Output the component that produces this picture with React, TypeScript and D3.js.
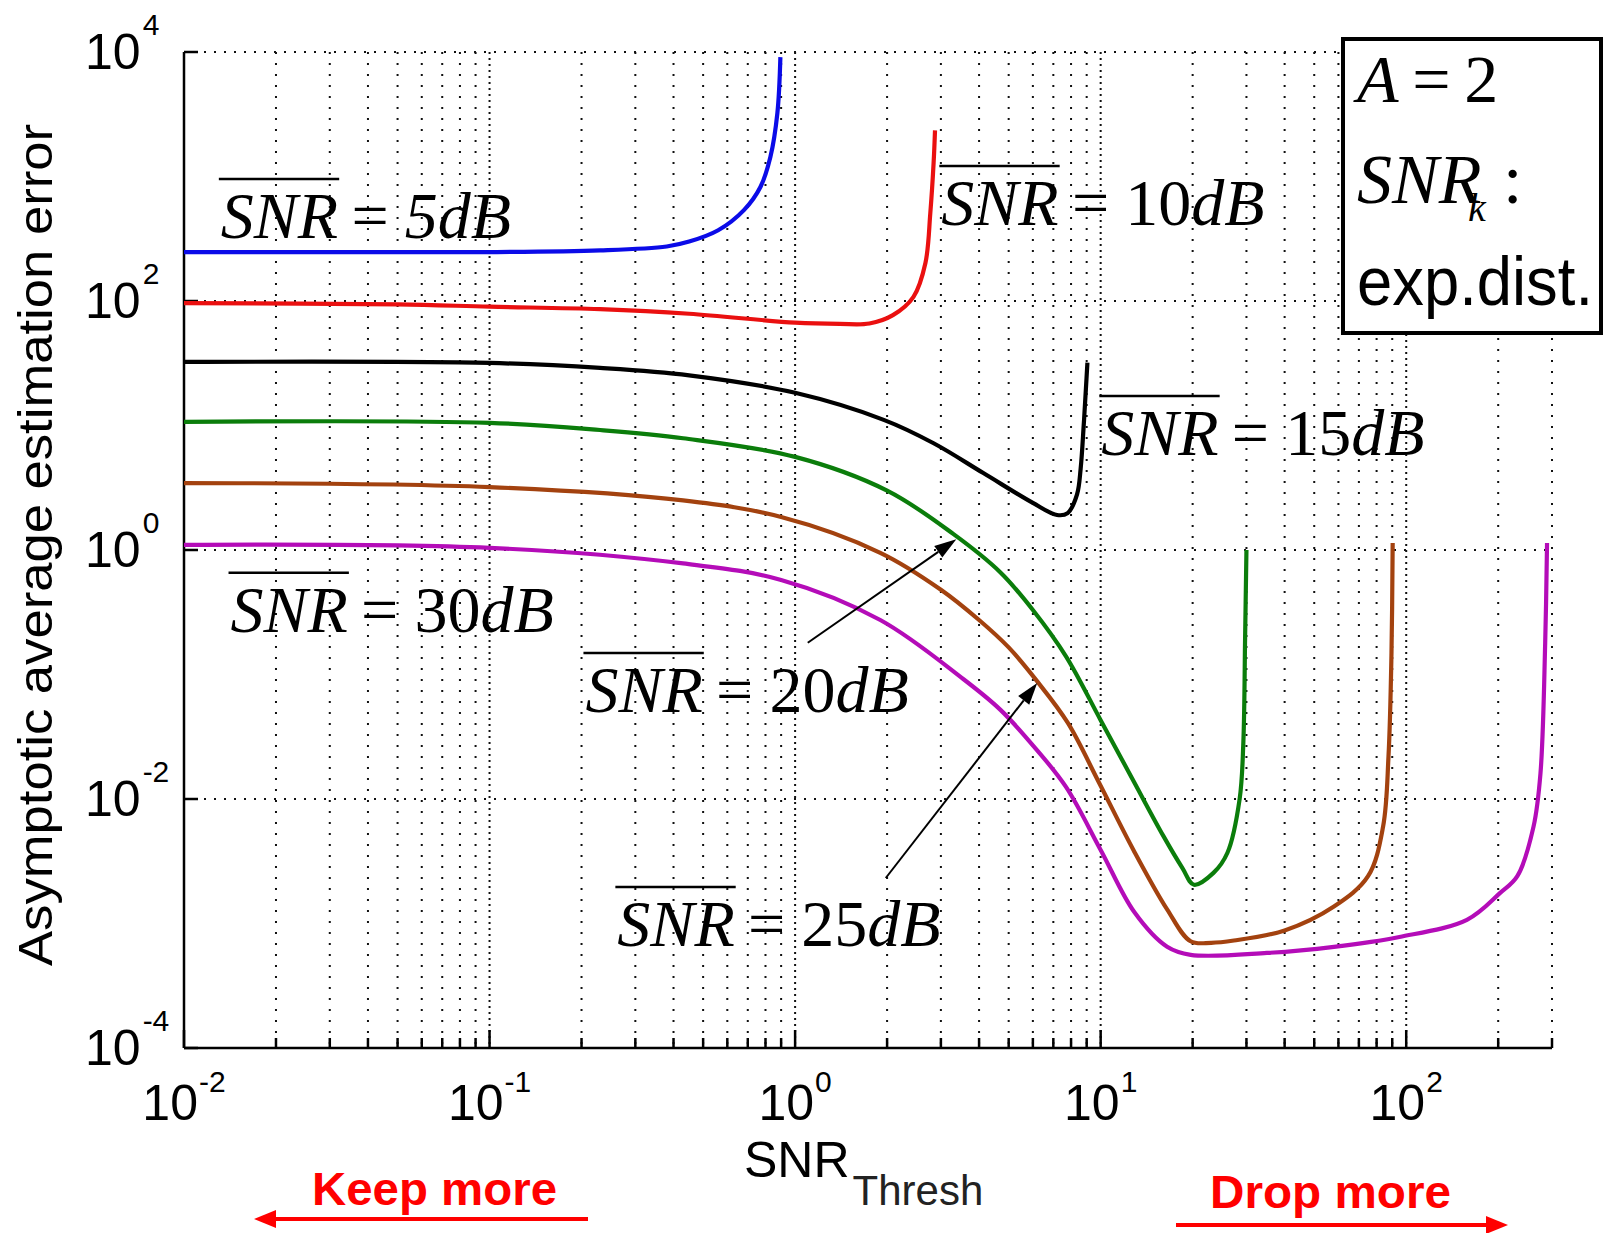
import React, { useEffect, useRef } from 'react';
import * as d3 from 'd3';

// SNR_Thresh (x) and asymptotic error (y), one pair per mean SNR curve
const snr5X = [0.01, 0.05, 0.1, 0.23, 0.38, 0.45, 0.56, 0.68, 0.77, 0.83, 0.875, 0.895];
const snr5Y = [247, 247, 247, 255, 274, 300, 370, 537, 824, 1435, 3240, 9100];

const snr10X = [0.01, 0.05, 0.1, 0.23, 0.45, 1.0, 1.4, 1.75, 2.09, 2.44, 2.67, 2.77, 2.84, 2.87];
const snr10Y = [96, 94, 90, 86, 79, 67, 65.5, 66, 77, 108, 202, 508, 1290, 2350];

const snr15X = [0.01, 0.1, 0.23, 0.45, 1.0, 1.95, 2.84, 4.13, 6.0, 7.2, 7.8, 8.37, 8.6, 8.8, 8.95, 9.05];
const snr15Y = [32.4, 31.8, 29, 25.3, 18.3, 11.1, 7.2, 4.15, 2.39, 1.91, 1.98, 2.8, 4.5, 10, 20, 32];

const snr20X = [0.01, 0.1, 0.23, 0.43, 1.0, 2.0, 3.3, 4.7, 6.0, 7.7, 10, 12.9, 16, 18.5, 20.2, 23.4, 26, 28.5, 29.3, 29.7, 30.0];
const snr20Y = [10.7, 10.5, 9.2, 7.9, 5.6, 3.0, 1.34, 0.66, 0.33, 0.14, 0.043, 0.0135, 0.0051, 0.0028, 0.00205, 0.00255, 0.0037, 0.01, 0.028, 0.2, 1.0];

const snr25X = [0.01, 0.1, 0.43, 0.9, 1.9, 3.0, 4.0, 5.0, 6.2, 7.8, 9.9, 12.8, 16.5, 19.7, 23, 27.3, 40, 58, 75, 84, 87.5, 89.5, 90.3];
const snr25Y = [3.45, 3.2, 2.5, 1.84, 0.95, 0.48, 0.274, 0.165, 0.088, 0.041, 0.0134, 0.0039, 0.0013, 0.00072, 0.0007, 0.00073, 0.00088, 0.00137, 0.0024, 0.006, 0.022, 0.15, 1.14];

const snr30X = [0.01, 0.1, 0.43, 0.9, 1.9, 3.55, 4.7, 6.0, 7.7, 10, 12.9, 16.5, 19.7, 35, 58, 95, 158, 203, 231, 261, 275, 285, 289];
const snr30Y = [1.1, 1.04, 0.78, 0.575, 0.274, 0.092, 0.052, 0.027, 0.0125, 0.0039, 0.00123, 0.00065, 0.00056, 0.00058, 0.00065, 0.00078, 0.00107, 0.00176, 0.0024, 0.006, 0.016, 0.18, 1.14];

const xTickExp = [-2, -1, 0, 1, 2];
const yTickExp = [-4, -2, 0, 2, 4];

// curve labels: dB value, anchor (data coords of label start / baseline)
const labelDb = ['5', '10', '15', '30', '20', '25'];
const labelAtX = [0.0132, 3.01, 10.05, 0.0142, 0.206, 0.262];
const labelAtY = [321, 408, 5.8, 0.22, 0.05, 0.00066];

// arrows from label to curve (data coords)
const arrowFromX = [1.1, 1.98];
const arrowFromY = [0.18, 0.00232];
const arrowToX = [3.37, 6.2];
const arrowToY = [1.22, 0.0855];

const colors = ['#0b0be8', '#ea1010', '#000000', '#0b7d0b', '#a3420f', '#b40cb8'];
const allX = [snr5X, snr10X, snr15X, snr20X, snr25X, snr30X];
const allY = [snr5Y, snr10Y, snr15Y, snr20Y, snr25Y, snr30Y];

const W = 1604, H = 1233;
const M = { left: 184, right: 1552, top: 52, bottom: 1048 };
const SANS = 'Liberation Sans, Arial, sans-serif';
const SERIF = 'Liberation Serif, Times New Roman, serif';

export default function App() {
  const svgRef = useRef<SVGSVGElement>(null);

  useEffect(() => {
    const svg = d3.select(svgRef.current);
    svg.selectAll('*').remove();

    const x = d3.scaleLog().domain([0.01, 300]).range([M.left, M.right]);
    const y = d3.scaleLog().domain([1e-4, 1e4]).range([M.bottom, M.top]);

    svg.append('rect').attr('width', W).attr('height', H).attr('fill', '#fff');

    // x grid values (minor + major)
    const xGrid: number[] = [];
    for (let d = -2; d <= 2; d++) {
      for (let k = 1; k <= 9; k++) {
        const v = k * Math.pow(10, d);
        if (v <= 300.001) xGrid.push(v);
      }
    }
    const isMajor = (v: number) => Math.abs(Math.log10(v) - Math.round(Math.log10(v))) < 1e-9;

    const grid = svg.append('g').attr('stroke', '#111').attr('stroke-width', 2);
    grid.selectAll('line.v')
      .data(xGrid.filter(v => v > 0.01))
      .join('line')
      .attr('x1', d => x(d)).attr('x2', d => x(d))
      .attr('y1', M.top).attr('y2', M.bottom)
      .attr('stroke-dasharray', d => isMajor(d) ? '2 4' : '2 9');
    grid.selectAll('line.h')
      .data(yTickExp.filter(e => e > -4).map(e => Math.pow(10, e)))
      .join('line')
      .attr('x1', M.left).attr('x2', M.right)
      .attr('y1', d => y(d)).attr('y2', d => y(d))
      .attr('stroke-dasharray', '2 8');

    // axes
    const axis = svg.append('g').attr('stroke', '#000').attr('stroke-width', 2.5);
    axis.append('line').attr('x1', M.left).attr('x2', M.left).attr('y1', M.top).attr('y2', M.bottom);
    axis.append('line').attr('x1', M.left).attr('x2', M.right).attr('y1', M.bottom).attr('y2', M.bottom);
    axis.selectAll('line.xt')
      .data(xGrid)
      .join('line')
      .attr('x1', d => x(d)).attr('x2', d => x(d))
      .attr('y1', M.bottom).attr('y2', d => M.bottom - (isMajor(d) ? 18 : 10));
    axis.selectAll('line.yt')
      .data(yTickExp.map(e => Math.pow(10, e)))
      .join('line')
      .attr('x1', M.left).attr('x2', M.left + 14)
      .attr('y1', d => y(d)).attr('y2', d => y(d));

    // tick labels
    const tl = svg.append('g').attr('font-family', SANS).attr('fill', '#000');
    xTickExp.forEach(e => {
      const t = tl.append('text')
        .attr('x', x(Math.pow(10, e)))
        .attr('y', 1120)
        .attr('text-anchor', 'middle')
        .attr('font-size', 50);
      t.append('tspan').text('10');
      t.append('tspan').attr('dx', 1).attr('dy', -28).attr('font-size', 30).text(String(e));
    });
    yTickExp.forEach(e => {
      const t = tl.append('text')
        .attr('x', 85)
        .attr('y', y(Math.pow(10, e)) + 17)
        .attr('font-size', 50);
      t.append('tspan').text('10');
      t.append('tspan').attr('dx', 2).attr('dy', -34).attr('font-size', 30).text(String(e));
    });

    // curves
    const line = d3.line<[number, number]>()
      .x(d => x(d[0]))
      .y(d => y(d[1]))
      .curve(d3.curveCatmullRom.alpha(0.5));
    svg.append('g')
      .attr('fill', 'none')
      .attr('stroke-width', 4.2)
      .attr('stroke-linejoin', 'round')
      .selectAll('path')
      .data(allX.map((xs, i) => ({ pts: xs.map((v, j) => [v, allY[i][j]] as [number, number]), color: colors[i] })))
      .join('path')
      .attr('stroke', d => d.color)
      .attr('d', d => line(d.pts));

    // curve labels with overlined SNR
    labelDb.forEach((db, i) => {
      const t = svg.append('text')
        .attr('x', x(labelAtX[i]))
        .attr('y', y(labelAtY[i]))
        .attr('font-family', SERIF)
        .attr('font-size', 66)
        .attr('fill', '#000');
      t.append('tspan').attr('font-style', 'italic').text('SNR');
      t.append('tspan').text('\u2009=\u2009');
      t.append('tspan').attr('dx', 3).attr('font-style', db === '5' ? 'italic' : 'normal').text(db);
      t.append('tspan').attr('font-style', 'italic').text('dB');
      const node = t.node() as SVGTextElement;
      const w = node.getSubStringLength(0, 3);
      const x0 = x(labelAtX[i]);
      const by = y(labelAtY[i]) - 59;
      svg.append('line')
        .attr('x1', x0 - 2).attr('x2', x0 + w + 1)
        .attr('y1', by).attr('y2', by)
        .attr('stroke', '#000').attr('stroke-width', 2.5);
    });

    // arrows
    arrowFromX.forEach((_, i) => {
      const x1 = x(arrowFromX[i]), y1 = y(arrowFromY[i]);
      const x2 = x(arrowToX[i]), y2 = y(arrowToY[i]);
      const a = Math.atan2(y2 - y1, x2 - x1);
      const L = 22, hw = 7;
      const bx = x2 - L * Math.cos(a), by = y2 - L * Math.sin(a);
      svg.append('line')
        .attr('x1', x1).attr('y1', y1).attr('x2', bx).attr('y2', by)
        .attr('stroke', '#000').attr('stroke-width', 2);
      svg.append('polygon')
        .attr('points', [
          [x2, y2],
          [bx + hw * Math.sin(a), by - hw * Math.cos(a)],
          [bx - hw * Math.sin(a), by + hw * Math.cos(a)],
        ].map(p => p.join(',')).join(' '))
        .attr('fill', '#000');
    });

    // info box
    const box = svg.append('g');
    box.append('rect')
      .attr('x', 1343).attr('y', 39).attr('width', 258).attr('height', 294)
      .attr('fill', '#fff').attr('stroke', '#000').attr('stroke-width', 4);
    const a = box.append('text').attr('x', 1357).attr('y', 102)
      .attr('font-family', SERIF).attr('font-size', 68);
    a.append('tspan').attr('font-style', 'italic').text('A');
    a.append('tspan').text('\u2009=\u2009');
    a.append('tspan').text('2');
    box.append('text').attr('x', 1357).attr('y', 203)
      .attr('font-family', SERIF).attr('font-size', 70).attr('font-style', 'italic')
      .text('SNR');
    box.append('text').attr('x', 1468).attr('y', 221)
      .attr('font-family', SERIF).attr('font-size', 40).attr('font-style', 'italic')
      .text('k');
    box.append('text').attr('x', 1503).attr('y', 203)
      .attr('font-family', SERIF).attr('font-size', 70)
      .text(':');
    box.append('text').attr('x', 1357).attr('y', 305)
      .attr('font-family', SANS).attr('font-size', 68)
      .attr('textLength', 236).attr('lengthAdjust', 'spacingAndGlyphs')
      .text('exp.dist.');

    // axis titles
    svg.append('text')
      .attr('transform', 'translate(52,545) rotate(-90)')
      .attr('text-anchor', 'middle')
      .attr('font-family', SANS).attr('font-size', 48)
      .attr('textLength', 842).attr('lengthAdjust', 'spacingAndGlyphs')
      .text('Asymptotic average estimation error');
    const xl = svg.append('text').attr('x', 744).attr('y', 1177)
      .attr('font-family', SANS).attr('font-size', 50);
    xl.append('tspan').text('SNR');
    xl.append('tspan').attr('dx', 3).attr('font-size', 42).attr('dy', 28).attr('fill', '#222').text('Thresh');

    // keep / drop annotations
    const red = '#ff0000';
    svg.append('text').attr('x', 312).attr('y', 1205)
      .attr('font-family', SANS).attr('font-weight', 'bold').attr('font-size', 46)
      .attr('fill', red).attr('textLength', 245).attr('lengthAdjust', 'spacingAndGlyphs')
      .text('Keep more');
    svg.append('line').attr('x1', 588).attr('x2', 272).attr('y1', 1219).attr('y2', 1219)
      .attr('stroke', red).attr('stroke-width', 4);
    svg.append('polygon').attr('points', '254,1219 276,1210 276,1228').attr('fill', red);

    svg.append('text').attr('x', 1210).attr('y', 1208)
      .attr('font-family', SANS).attr('font-weight', 'bold').attr('font-size', 46)
      .attr('fill', red).attr('textLength', 241).attr('lengthAdjust', 'spacingAndGlyphs')
      .text('Drop more');
    svg.append('line').attr('x1', 1176).attr('x2', 1490).attr('y1', 1225).attr('y2', 1225)
      .attr('stroke', red).attr('stroke-width', 4);
    svg.append('polygon').attr('points', '1508,1225 1486,1216 1486,1234').attr('fill', red);
  }, []);

  return (
    <svg
      ref={svgRef}
      width={W}
      height={H}
      style={{ position: 'absolute', left: 0, top: 0, display: 'block' }}
    />
  );
}
